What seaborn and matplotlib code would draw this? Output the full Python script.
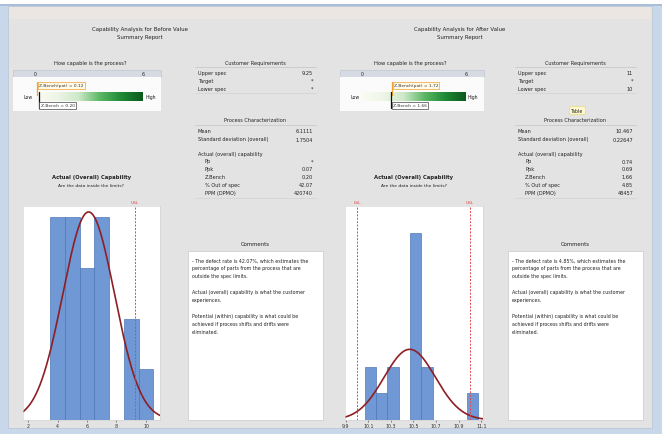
import numpy as np
import matplotlib
matplotlib.use("Agg")
import matplotlib.pyplot as plt
from matplotlib.patches import Rectangle
from matplotlib.colors import LinearSegmentedColormap
import seaborn as sns

sns.set_theme(style="white")
plt.rcParams["font.family"] = ["DejaVu Sans"]

W, H = 662, 435

# ---------------- data: Before ----------------
before_bin_left = [3.5, 4.5, 5.5, 6.5, 7.5, 8.5, 9.5]
before_counts = [4, 4, 3, 4, 0, 2, 1]
before_ticks = [2, 4, 6, 8, 10]
before_usl = 9.25
before_mean = 6.1111
before_sd = 1.7504
before_z_actual = 0.20
before_z_potential = 0.12
before_requirements = [("Upper spec", "9.25"), ("Target", "*"), ("Lower spec", "*")]
before_process = [("Mean", "6.1111"), ("Standard deviation (overall)", "1.7504")]
before_capability = [("Pp", "*"), ("Ppk", "0.07"), ("Z.Bench", "0.20"),
                     ("% Out of spec", "42.07"), ("PPM (DPMO)", "420740")]
before_defect_rate = "42.07%"

# ---------------- data: After ----------------
after_bin_left = [10.07, 10.17, 10.27, 10.37, 10.47, 10.57, 10.67, 10.77, 10.87, 10.97]
after_counts = [2, 1, 2, 0, 7, 2, 0, 0, 0, 1]
after_ticks = [9.9, 10.1, 10.3, 10.5, 10.7, 10.9, 11.1]
after_lsl = 10.0
after_usl = 11.0
after_mean = 10.467
after_sd = 0.2265
after_z_actual = 1.66
after_z_potential = 1.72
after_requirements = [("Upper spec", "11"), ("Target", "*"), ("Lower spec", "10")]
after_process = [("Mean", "10.467"), ("Standard deviation (overall)", "0.22647")]
after_capability = [("Pp", "0.74"), ("Ppk", "0.69"), ("Z.Bench", "1.66"),
                    ("% Out of spec", "4.85"), ("PPM (DPMO)", "48457")]
after_defect_rate = "4.85%"

BG = "#e3e3e3"
BAR = "#6f98d4"
BAR_EDGE = "#4f78b8"
CURVE = "#8e1f25"
SPEC = "#e0474c"
FS = 3.6

fig = plt.figure(figsize=(W / 100, H / 100), dpi=100)
fig.patch.set_facecolor("#ffffff")


def fx(x):
    return x / W


def fy(y):
    return 1 - y / H


def rect(x0, y0, x1, y1, zorder=-5, **kw):
    fig.patches.append(Rectangle((fx(x0), fy(y1)), fx(x1) - fx(x0), fy(y0) - fy(y1),
                                 transform=fig.transFigure, figure=fig, zorder=zorder, **kw))


def txt(x, y, s, size=FS, ha="left", color="#222222", **kw):
    fig.text(fx(x), fy(y), s, fontsize=size, ha=ha, va="center", color=color, **kw)


def hline(x0, x1, y, color="#c4c4c4", lw=0.5):
    fig.lines.append(plt.Line2D([fx(x0), fx(x1)], [fy(y), fy(y)], transform=fig.transFigure,
                                color=color, lw=lw, zorder=-1))


# window frame and report background
rect(0, 5, W, H, facecolor="#c8d8ea", edgecolor="none")
rect(0, 5, W, 7, facecolor="#a9bfd9", edgecolor="none")
rect(8, 7, 652, 429, facecolor=BG, edgecolor="#b7c4d4", lw=0.5)
rect(9, 8, 651, 20, facecolor="#ece6e2", edgecolor="none")

green = LinearSegmentedColormap.from_list(
    "cap", ["#fbfbf3", "#eef6e8", "#cfe9c9", "#5cb865", "#1f8a36", "#0b5a1c"])


def panel(dx, name, bin_left, counts, ticks, specs, mean, sd, z_act, z_pot,
          req, proc, cap, defect, scale0, scale6, hist_box, show_table):
    # report title
    txt(140 + dx, 29, f"Capability Analysis for {name} Value", size=3.9, ha="center")
    txt(140 + dx, 37, "Summary Report", size=3.9, ha="center")

    # capability scale
    txt(90 + dx, 63, "How capable is the process?", size=3.7, ha="center")
    rect(scale0 - 22, 71, scale6 + 18, 78, facecolor="#d5dae3", edgecolor="#b9c0cc", lw=0.4)
    rect(scale0 - 22, 78, scale6 + 18, 112, facecolor="#fbfbfb", edgecolor="none")
    txt(scale0, 74.5, "0", size=3.3, ha="center")
    txt(scale6, 74.5, "6", size=3.3, ha="center")
    gax = fig.add_axes([fx(scale0), fy(102), fx(scale6) - fx(scale0), fy(93) - fy(102)])
    gax.imshow(np.linspace(0, 1, 256)[None, :], aspect="auto", cmap=green,
               extent=(0, 6, 0, 1))
    gax.set_axis_off()
    txt(scale0 - 2, 97.5, "Low", size=3.3, ha="right")
    txt(scale6 + 2, 97.5, "High", size=3.3, ha="left")
    px_per = (scale6 - scale0) / 6
    xp = scale0 + z_pot * px_per
    xa = scale0 + z_act * px_per
    fig.lines.append(plt.Line2D([fx(xp), fx(xp)], [fy(83), fy(96)], transform=fig.transFigure,
                                color="#f0a030", lw=0.9, zorder=3))
    fig.text(fx(xp + 2), fy(86.5), f"Z.Bench(pot) = {z_pot:.2f}", fontsize=3.2, va="center",
             color="#333333", bbox=dict(boxstyle="square,pad=0.25", fc="#fffbe8",
                                        ec="#f0a030", lw=0.5))
    fig.lines.append(plt.Line2D([fx(xa), fx(xa)], [fy(93), fy(109)], transform=fig.transFigure,
                                color="#111111", lw=0.9, zorder=3))
    fig.text(fx(xa + 2), fy(106.5), f"Z.Bench = {z_act:.2f}", fontsize=3.2, va="center",
             color="#333333", bbox=dict(boxstyle="square,pad=0.25", fc="#ffffff",
                                        ec="#444444", lw=0.5))

    # customer requirements
    lx, rx = 198 + dx, 313 + dx
    txt((lx + rx) / 2, 63, "Customer Requirements", size=3.6, ha="center")
    hline(lx - 3, rx + 3, 67.5)
    for i, (k, v) in enumerate(req):
        txt(lx, 73.5 + 8 * i, k)
        txt(rx, 73.5 + 8 * i, v, ha="right")
    hline(lx - 3, rx + 3, 94, color="#d2d2d2")

    # process characterization
    if show_table:
        fig.text(fx((lx + rx) / 2 + 2), fy(111.5), "Table", fontsize=3.4, ha="center",
                 va="center", color="#222222",
                 bbox=dict(boxstyle="round,pad=0.35", fc="#fff9d0", ec="#e8d878", lw=0.5))
    txt((lx + rx) / 2, 121, "Process Characterization", size=3.6, ha="center")
    hline(lx - 3, rx + 3, 125.5)
    for i, (k, v) in enumerate(proc):
        txt(lx, 132 + 8 * i, k)
        txt(rx, 132 + 8 * i, v, ha="right")
    txt(lx, 154.5, "Actual (overall) capability")
    for i, (k, v) in enumerate(cap):
        txt(lx + 7, 162 + 7.8 * i, k)
        txt(rx, 162 + 7.8 * i, v, ha="right")
    hline(lx - 3, rx + 3, 199, color="#d2d2d2")

    # histogram with fitted normal curve
    x0, y0, x1, y1, xlim, ylim = hist_box
    txt((x0 + x1) / 2, 178, "Actual (Overall) Capability", size=3.8, ha="center",
        fontweight="bold")
    txt((x0 + x1) / 2, 186, "Are the data inside the limits?", size=3.2, ha="center")
    ax = fig.add_axes([fx(x0), fy(y1), fx(x1) - fx(x0), fy(y0) - fy(y1)])
    ax.set_facecolor("white")
    bw = bin_left[1] - bin_left[0]
    edges = list(bin_left) + [bin_left[-1] + bw]
    centers = [b + bw / 2 for b in bin_left]
    sns.histplot(x=centers, weights=counts, bins=edges, ax=ax, color=BAR,
                 edgecolor=BAR_EDGE, linewidth=0.5, alpha=1.0)
    xs = np.linspace(xlim[0], xlim[1], 300)
    ys = sum(counts) * bw * np.exp(-0.5 * ((xs - mean) / sd) ** 2) / (sd * np.sqrt(2 * np.pi))
    sns.lineplot(x=xs, y=ys, ax=ax, color=CURVE, lw=1.2)
    for lab, v in specs:
        ax.axvline(v, color=SPEC, lw=0.7, ls=(0, (2, 1.5)))
        ax.text(v, 1.01, lab, transform=ax.get_xaxis_transform(), color=SPEC,
                fontsize=3.2, ha="center", va="bottom")
    ax.set_xlim(*xlim)
    ax.set_ylim(*ylim)
    ax.set_xticks(ticks)
    ax.set_xticklabels([f"{t:g}" for t in ticks])
    ax.set_yticks([])
    ax.set_xlabel("")
    ax.set_ylabel("")
    ax.tick_params(axis="x", labelsize=3.4, length=1.5, width=0.4, pad=1,
                   colors="#333333", bottom=True)
    for s in ax.spines.values():
        s.set_color("#d0d0d0")
        s.set_linewidth(0.4)

    # comments box
    cx0, cx1 = 188 + dx, 323 + dx
    txt((cx0 + cx1) / 2, 245, "Comments", size=3.9, ha="center")
    rect(cx0, 252, cx1, 421, facecolor="white", edgecolor="#c8c8c8", lw=0.5)
    lines = [
        (261, f"- The defect rate is {defect}, which estimates the"),
        (269, "percentage of parts from the process that are"),
        (277, "outside the spec limits."),
        (293, "Actual (overall) capability is what the customer"),
        (301, "experiences."),
        (317, "Potential (within) capability is what could be"),
        (325, "achieved if process shifts and drifts were"),
        (333, "eliminated."),
    ]
    for y, s in lines:
        txt(cx0 + 4, y, s, size=3.4)


panel(0, "Before", before_bin_left, before_counts, before_ticks,
      [("USL", before_usl)], before_mean, before_sd, before_z_actual, before_z_potential,
      before_requirements, before_process, before_capability, before_defect_rate,
      35, 143, (23, 207, 160, 421, (1.66, 10.95), (0, 4.22)), False)

panel(320, "After", after_bin_left, after_counts, after_ticks,
      [("LSL", after_lsl), ("USL", after_usl)], after_mean, after_sd,
      after_z_actual, after_z_potential,
      after_requirements, after_process, after_capability, after_defect_rate,
      362, 466, (345, 207, 483, 421, (9.894, 11.115), (0, 8.0)), True)

fig.savefig("out.png", dpi=100, facecolor=fig.get_facecolor())
